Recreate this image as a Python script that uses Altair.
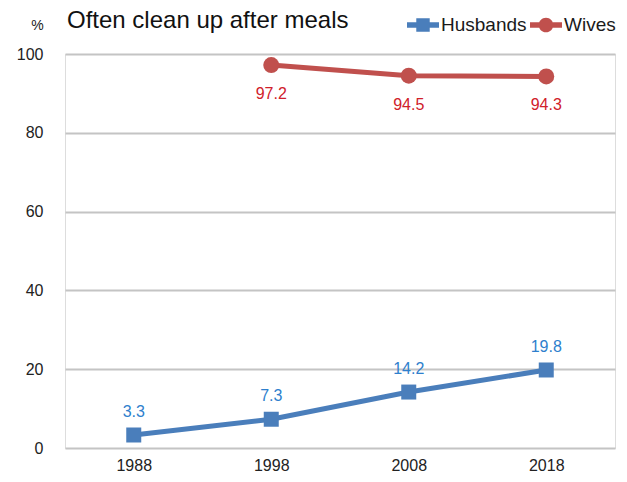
import altair as alt
import pandas as pd

years = ["1988", "1998", "2008", "2018"]
husbands = [3.3, 7.3, 14.2, 19.8]
wives_years = ["1998", "2008", "2018"]
wives = [97.2, 94.5, 94.3]
series = ["Husbands", "Wives"]
line_colors = ["#4a7ebb", "#c0504d"]
label_colors = ["#2e7fcd", "#d0202a"]

rows = [{"year": y, "series": "Husbands", "value": v} for y, v in zip(years, husbands)]
rows += [{"year": y, "series": "Wives", "value": v} for y, v in zip(wives_years, wives)]
df = pd.DataFrame(rows)

FONT = "Liberation Sans"

x = alt.X("year:N", scale=alt.Scale(domain=years, paddingInner=0, paddingOuter=0.5),
          axis=alt.Axis(title=None, labelAngle=0, ticks=False, domain=False, grid=False,
                        labelFontSize=16, labelPadding=9, labelColor="#222", labelFont=FONT))
y = alt.Y("value:Q", scale=alt.Scale(domain=[0, 100], nice=False),
          axis=alt.Axis(title="%", titleAngle=0, titleX=-28, titleY=-22, titleAlign="center",
                        titleFontSize=14, titleFontWeight="normal", titleColor="#222", titleFont=FONT,
                        values=[0, 20, 40, 60, 80, 100], ticks=False, domain=False,
                        labelFontSize=16, labelPadding=22, labelColor="#222", labelFont=FONT,
                        gridColor="#c4c4c4", gridWidth=2))

base = alt.Chart(df)
hb = base.transform_filter(alt.datum.series == "Husbands")
wb = base.transform_filter(alt.datum.series == "Wives")

lh = hb.mark_line(strokeWidth=5, color=line_colors[0]).encode(x=x, y=y)
lw = wb.mark_line(strokeWidth=5, color=line_colors[1]).encode(x=x, y=y)

sq = hb.mark_point(shape="square", filled=True, opacity=1, size=225,
                   color=line_colors[0]).encode(x=x, y=y)
ci = wb.mark_point(shape="circle", filled=True, opacity=1, size=256,
                   color=line_colors[1]).encode(x=x, y=y)

th = hb.mark_text(dy=-23, fontSize=16, font=FONT, color=label_colors[0]).encode(
    x=x, y=y, text=alt.Text("value:Q", format=".1f"))
tw = wb.mark_text(dy=29, fontSize=16, font=FONT, color=label_colors[1]).encode(
    x=x, y=y, text=alt.Text("value:Q", format=".1f"))

sq_path = ("M-1,-0.17H-0.42V0.17H-1Z M0.42,-0.17H1V0.17H0.42Z "
           "M-0.42,-0.42H0.42V0.42H-0.42Z")
ci_path = ("M-1,-0.17H-0.43V0.17H-1Z M0.43,-0.17H1V0.17H0.43Z "
           "M-0.46,0A0.46,0.46 0 1,1 0.46,0A0.46,0.46 0 1,1 -0.46,0Z")

legend_def = alt.Legend(title=None, orient="none", legendX=342, legendY=-45,
                        direction="horizontal", symbolSize=1024,
                        symbolOpacity=1, symbolStrokeWidth=0,
                        labelFontSize=19, labelFont=FONT, labelColor="#1a1a1a",
                        labelOffset=2, columnPadding=3, padding=0)

leg = base.mark_point(filled=True, opacity=0).encode(
    x=x, y=y,
    color=alt.Color("series:N", scale=alt.Scale(domain=series, range=line_colors),
                    legend=legend_def),
    shape=alt.Shape("series:N", scale=alt.Scale(domain=series, range=[sq_path, ci_path]),
                    legend=legend_def),
)

chart = alt.layer(lh, lw, sq, ci, th, tw, leg).properties(
    width=550, height=394,
    autosize=alt.AutoSizeParams(type="none"),
    padding={"left": 57, "top": 46, "right": 4, "bottom": 26},
    title=alt.TitleParams("Often clean up after meals", anchor="start", frame="group",
                          fontSize=24, fontWeight="normal", font=FONT, color="#111",
                          offset=-24, dx=2),
).configure_view(stroke="#c4c4c4", strokeWidth=2).configure(background="white")

chart.save("out.html", embed_options={"renderer": "svg", "actions": False})
